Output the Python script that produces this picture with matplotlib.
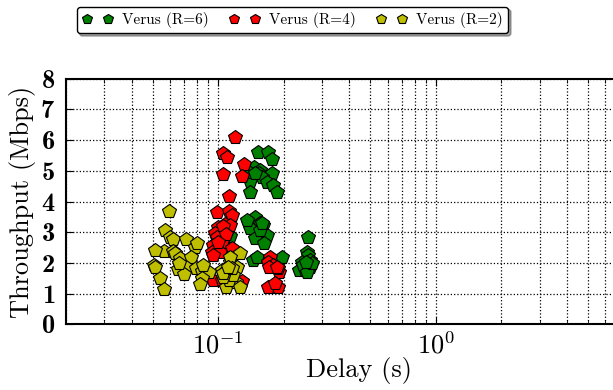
import numpy as np
import matplotlib
matplotlib.use("Agg")
import matplotlib.pyplot as plt
from matplotlib.ticker import LogLocator, FuncFormatter, MultipleLocator

plt.rcParams.update({"font.family": "cmr10", "mathtext.fontset": "cm",
                     "axes.formatter.use_mathtext": True, "axes.unicode_minus": False})

# Verus (R=6)
r6_delay = [0.153, 0.169, 0.1763, 0.1463, 0.1558, 0.1546, 0.1763, 0.1402, 0.1586, 0.1683,
            0.1782, 0.1871, 0.1402, 0.1392, 0.1478,
            0.1377, 0.1478, 0.1558, 0.1613, 0.1402, 0.1478, 0.1672, 0.163, 0.1558, 0.1363, 0.1586,
            0.1443, 0.1505, 0.1973, 0.1135,
            0.2593, 0.255, 0.2593, 0.264, 0.2422, 0.236, 0.2506, 0.264, 0.2463, 0.255, 0.2687, 0.2532]
r6_tput = [5.63, 5.61, 5.39, 5.14, 5.03, 4.94, 4.94, 4.68, 4.81, 4.65,
           4.54, 4.32, 4.32, 4.97, 4.92,
           3.35, 3.49, 3.29, 3.24, 3.13, 2.80, 2.91, 2.64, 3.07, 3.40, 3.29,
           2.10, 2.21, 2.19, 2.88,
           2.86, 2.37, 2.26, 2.10, 2.04, 1.77, 1.77, 1.88, 1.93, 1.72, 1.99, 2.04]

# Verus (R=4)
r4_delay = [0.1197, 0.1051, 0.1103, 0.132, 0.1292, 0.1051, 0.1123, 0.0986, 0.1127, 0.1156,
            0.1077, 0.1003, 0.1135, 0.0969, 0.0986, 0.104, 0.0951, 0.0936, 0.1021, 0.0951,
            0.1156, 0.0945, 0.104, 0.1292, 0.1057, 0.1088, 0.1003,
            0.1732, 0.1701, 0.1793, 0.1911, 0.1719, 0.1891, 0.1763, 0.1701, 0.1891, 0.1826, 0.1859]
r4_tput = [6.11, 5.57, 5.44, 5.21, 4.83, 4.89, 4.19, 3.67, 3.69, 3.56,
           3.26, 3.18, 3.24, 2.97, 2.86, 2.69, 2.59, 2.37, 2.37, 2.26,
           2.48, 1.45, 1.45, 1.41, 3.22, 2.95, 2.70,
           2.21, 2.04, 1.93, 1.72, 1.86, 1.83, 1.23, 1.21, 1.23, 1.34, 1.88]

# Verus (R=2)
r2_delay = [0.0592, 0.0571, 0.0598, 0.0617, 0.0711, 0.0779, 0.0561, 0.0514, 0.062, 0.0635,
            0.0665, 0.0752, 0.0505, 0.0514, 0.0651, 0.0711, 0.0793, 0.070, 0.0842, 0.0903,
            0.0542, 0.0842, 0.0821, 0.0561, 0.0658, 0.0797, 0.0855,
            0.104, 0.1135, 0.1103, 0.1218, 0.1261, 0.1088, 0.1209, 0.1261, 0.1127, 0.1175,
            0.1057, 0.1135, 0.1051, 0.1156, 0.1115]
r2_tput = [3.70, 3.07, 2.86, 2.77, 2.78, 2.53, 2.40, 2.42, 2.40, 2.32,
           2.17, 2.19, 1.93, 1.88, 1.80, 1.86, 1.84, 1.63, 1.75, 1.72,
           1.50, 1.50, 1.32, 1.14, 1.99, 2.64, 1.93,
           1.77, 2.04, 1.77, 1.88, 2.32, 1.21, 1.39, 1.23, 1.45, 1.61,
           1.55, 2.21, 1.66, 1.83, 1.88]

series = [("Verus (R=6)", r6_delay, r6_tput, (0, 0.5, 0)),
          ("Verus (R=4)", r4_delay, r4_tput, (1, 0, 0)),
          ("Verus (R=2)", r2_delay, r2_tput, (0.75, 0.75, 0))]

fig = plt.figure(figsize=(6.13, 3.9), dpi=100)
ax = fig.add_axes([0.1077, 0.168, 0.957, 0.63])
for lab, xs, ys, c in series:
    ax.plot(xs, ys, "p", color=c, mec="k", mew=0.8, ms=10, label=lab, ls="none")

ax.set_xscale("log")
ax.set_xlim(0.02, 9.9)
ax.set_ylim(0, 8)
ax.yaxis.set_major_locator(MultipleLocator(1))
ax.xaxis.set_major_locator(LogLocator(base=10))
ax.xaxis.set_minor_locator(LogLocator(base=10, subs=np.arange(2, 10)))
ax.xaxis.set_major_formatter(FuncFormatter(lambda v, p: r"$\mathbf{10^{%d}}$" % round(np.log10(v))))
ax.grid(True, which="major", ls=":", color="k", lw=0.9)
ax.grid(True, which="minor", axis="x", ls=":", color="k", lw=0.9)
ax.tick_params(which="both", direction="in", top=True, right=True)
ax.tick_params(which="major", length=5, labelsize=19)
ax.tick_params(axis="y", pad=8)
ax.tick_params(axis="x", pad=5)
ax.tick_params(which="minor", length=3)
for lbl in ax.get_yticklabels():
    lbl.set_family("cmb10")
for s in ax.spines.values():
    s.set_linewidth(1.5)

ax.set_xlabel("Delay (s)", fontsize=19, labelpad=-1)
ax.set_ylabel("Throughput (Mbps)", fontsize=19, labelpad=3)

fig.legend(loc="center", bbox_to_anchor=(0.477, 0.949), ncol=3, numpoints=2,
           fontsize=11, markerscale=0.7, shadow=True, fancybox=True,
           edgecolor="k", framealpha=1, columnspacing=1.35, handletextpad=0.6,
           borderpad=0.35)

fig.savefig("out.png", dpi=100, facecolor="white")
